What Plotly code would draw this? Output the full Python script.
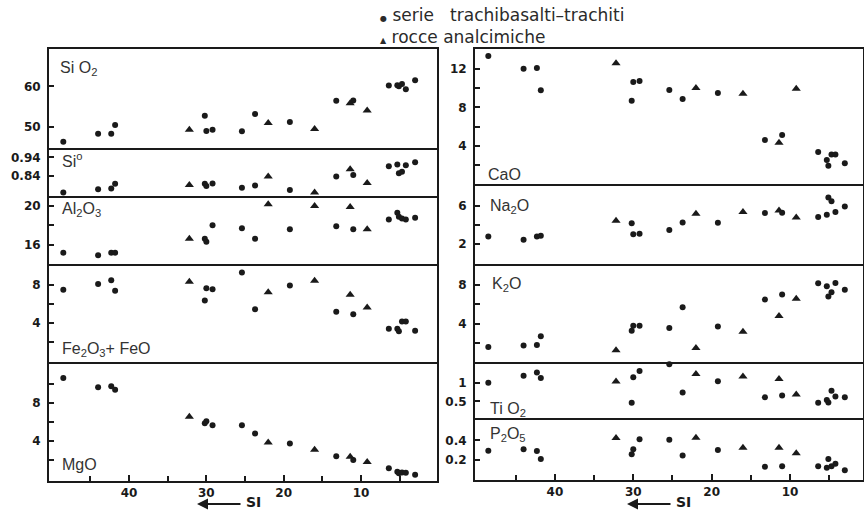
import plotly.graph_objects as go

# ---------------- data ----------------
SI_DOTS = [48.5, 44.0, 42.3, 41.8, 30.2, 30.0, 29.2, 25.4, 23.7, 19.2,
           13.2, 11.0, 6.4, 5.3, 5.1, 4.7, 4.2, 3.0]
SI_TRI = [32.2, 22.0, 16.0, 11.4, 9.2]

SIO2_DOTS = [46.2, 48.2, 48.2, 50.4, 52.7, 48.9, 49.2, 48.8, 53.1, 51.1,
             56.4, 56.5, 60.2, 60.3, 60.0, 60.6, 59.3, 61.5]
SIO2_TRI = [49.2, 50.9, 49.4, 55.8, 54.0]

SIO_DOTS = [0.750, 0.767, 0.771, 0.797, 0.797, 0.785, 0.799, 0.776, 0.788, 0.764,
            0.837, 0.845, 0.892, 0.902, 0.854, 0.862, 0.897, 0.914]
SIO_TRI = [0.790, 0.837, 0.750, 0.876, 0.802]

AL2O3_DOTS = [15.16, 14.9, 15.16, 15.16, 16.6, 16.3, 18.0, 17.7, 16.6, 17.6,
              17.9, 17.6, 18.6, 19.3, 18.9, 18.7, 18.6, 18.8]
AL2O3_TRI = [16.6, 20.2, 20.0, 19.9, 17.6]

FEO_DOTS = [7.5, 8.1, 8.5, 7.4, 6.36, 7.65, 7.55, 9.3, 5.44, 7.93,
            5.2, 4.92, 3.42, 3.4, 3.14, 4.17, 4.17, 3.2]
FEO_TRI = [8.34, 7.24, 8.44, 6.97, 5.64]

MGO_DOTS = [10.65, 9.67, 9.77, 9.4, 5.85, 6.06, 5.64, 5.64, 4.76, 3.69,
            2.36, 1.95, 1.08, 0.7, 0.53, 0.63, 0.6, 0.38]
MGO_TRI = [6.54, 3.82, 3.03, 2.3, 1.74]

CAO_DOTS = [13.34, 12.0, 12.1, 9.77, 8.7, 10.63, 10.73, 9.8, 8.88, 9.5,
            4.62, 5.13, 3.38, 2.56, 1.94, 3.11, 3.11, 2.22]
CAO_TRI = [12.59, 10.01, 9.43, 4.35, 9.94]

NA2O_DOTS = [2.81, 2.47, 2.81, 2.88, 4.17, 3.05, 3.08, 3.49, 4.27, 4.24,
             5.25, 5.28, 4.84, 5.08, 6.87, 6.47, 5.35, 5.93]
NA2O_TRI = [4.44, 5.18, 5.35, 5.52, 4.78]

K2O_DOTS = [1.62, 1.78, 1.82, 2.72, 3.29, 3.8, 3.8, 3.56, 5.71, 3.73,
            6.49, 7.02, 8.17, 7.86, 6.82, 7.26, 8.2, 7.5]
K2O_TRI = [1.28, 1.51, 3.19, 4.8, 6.59]

TIO2_DOTS = [1.01, 1.2, 1.29, 1.14, 0.46, 1.16, 1.33, 1.51, 0.74, 1.05,
             0.61, 0.66, 0.46, 0.54, 0.47, 0.79, 0.63, 0.61]
TIO2_TRI = [1.04, 1.25, 1.18, 1.11, 0.69]

P2O5_DOTS = [0.293, 0.307, 0.29, 0.207, 0.257, 0.307, 0.41, 0.407, 0.243, 0.3,
             0.127, 0.133, 0.133, 0.117, 0.207, 0.133, 0.157, 0.09]
P2O5_TRI = [0.423, 0.427, 0.323, 0.323, 0.267]

X_MAJOR = [40, 30, 20, 10]
X_MINOR = [45, 35, 25, 15, 5]

LEGEND_DOTS = "serie\u00a0\u00a0 trachibasalti\u2013trachiti"
LEGEND_TRI = "rocce analcimiche"
AXIS_NAME = "SI"

# ---------------- layout helpers ----------------
W, H = 864, 513
def px_x(p):
    return p / W
def px_y(p):
    return 1 - p / H

COLS = {
    "L": dict(dom=[px_x(49), px_x(437)], rng=[50.35, 0.17]),
    "R": dict(dom=[px_x(475), px_x(863)], rng=[50.2, 0.68]),
}

# (label, column, top px, bottom px, y range, labelled ticks, minor ticks,
#  dots, triangles, label x px, label y px, is top panel, is bottom panel)
PANELS = [
    ("Si O<sub>2</sub>", "L", 49, 148, [44.66, 69.3], [50, 60], [],
     SIO2_DOTS, SIO2_TRI, 58, 68, True, False),
    ("Si<sup>o</sup>", "L", 150, 196, [0.731, 0.980], [0.84, 0.94], [],
     SIO_DOTS, SIO_TRI, 60, 160, False, False),
    ("Al<sub>2</sub>O<sub>3</sub>", "L", 198, 264, [13.98, 20.84], [16, 20], [18],
     AL2O3_DOTS, AL2O3_TRI, 60, 209, False, False),
    ("Fe<sub>2</sub>O<sub>3</sub>+ FeO", "L", 266, 362, [-0.07, 9.98], [4, 8], [2, 6],
     FEO_DOTS, FEO_TRI, 60, 349, False, False),
    ("MgO", "L", 364, 481, [-0.28, 12.14], [4, 8], [2, 6, 10],
     MGO_DOTS, MGO_TRI, 60, 464, False, True),
    ("CaO", "R", 49, 184, [0.06, 14.06], [4, 8, 12], [2, 6, 10],
     CAO_DOTS, CAO_TRI, 486, 174, True, False),
    ("Na<sub>2</sub>O", "R", 186, 264, [-0.06, 8.06], [2, 6], [4],
     NA2O_DOTS, NA2O_TRI, 488, 206, False, False),
    ("K<sub>2</sub>O", "R", 266, 362, [0.07, 9.95], [4, 8], [2, 6],
     K2O_DOTS, K2O_TRI, 490, 284, False, False),
    ("Ti O<sub>2</sub>", "R", 364, 418, [0.045, 1.52], [0.5, 1], [],
     TIO2_DOTS, TIO2_TRI, 488, 409, False, False),
    ("P<sub>2</sub>O<sub>5</sub>", "R", 420, 480, [-0.01, 0.61], [0.2, 0.4], [],
     P2O5_DOTS, P2O5_TRI, 488, 434, False, True),
]

INK = "#1a1a1a"
TICKFONT = dict(family="DejaVu Sans", size=12, color=INK, weight="bold")
LABELFONT = dict(family="Liberation Sans", size=16, color="#333333")

fig = go.Figure()
layout = dict(
    width=W, height=H, margin=dict(l=0, r=0, t=0, b=0),
    paper_bgcolor="white", plot_bgcolor="white", showlegend=False,
)
annotations = []

for i, (lab, col, top, bot, yr, ymaj, ymin, dots, tri, lx, ly, is_top, is_bottom) in enumerate(PANELS):
    n = i + 1
    xa = "x" if n == 1 else f"x{n}"
    ya = "y" if n == 1 else f"y{n}"
    xkey = "xaxis" if n == 1 else f"xaxis{n}"
    ykey = "yaxis" if n == 1 else f"yaxis{n}"
    c = COLS[col]
    fig.add_trace(go.Scatter(
        x=SI_DOTS, y=dots, mode="markers", xaxis=xa, yaxis=ya, cliponaxis=False,
        marker=dict(symbol="circle", size=6, color=INK),
        name=LEGEND_DOTS, hoverinfo="x+y"))
    fig.add_trace(go.Scatter(
        x=SI_TRI, y=tri, mode="markers", xaxis=xa, yaxis=ya, cliponaxis=False,
        marker=dict(symbol="triangle-up", size=8, color=INK),
        name=LEGEND_TRI, hoverinfo="x+y"))
    xaxis = dict(
        domain=c["dom"], range=c["rng"], anchor=ya,
        showline=True, mirror=is_top, linecolor=INK, linewidth=2,
        showgrid=False, zeroline=False, tickfont=TICKFONT,
    )
    if is_bottom:
        xaxis.update(
            tickmode="array", tickvals=X_MAJOR, ticks="inside", ticklen=6,
            tickwidth=2, tickcolor=INK, showticklabels=True,
            minor=dict(tickmode="array", tickvals=X_MINOR, ticks="inside",
                       ticklen=5, tickwidth=2, tickcolor=INK, showgrid=False))
    else:
        xaxis.update(showticklabels=False, ticks="")
    layout[xkey] = xaxis
    yaxis = dict(
        domain=[px_y(bot), px_y(top)], range=yr, anchor=xa,
        showline=True, mirror=True, linecolor=INK, linewidth=2,
        showgrid=False, zeroline=False,
        tickmode="array", tickvals=ymaj,
        ticks="inside", ticklen=5, tickwidth=2, tickcolor=INK,
        tickfont=TICKFONT, ticklabelstandoff=4,
    )
    if ymin:
        yaxis["minor"] = dict(tickmode="array", tickvals=ymin, ticks="inside",
                              ticklen=5, tickwidth=2, tickcolor=INK, showgrid=False)
    layout[ykey] = yaxis
    annotations.append(dict(
        text=lab, x=px_x(lx), y=px_y(ly), xref="paper", yref="paper",
        xanchor="left", yanchor="middle", showarrow=False, font=LABELFONT))

# "<-- SI" under the two bottom axes
for head_x in (197, 627):
    annotations.append(dict(
        text="", x=px_x(head_x), y=px_y(504), xref="paper", yref="paper",
        ax=45, ay=0, showarrow=True, arrowhead=2, arrowsize=1, arrowwidth=2.2,
        arrowcolor=INK, standoff=0))
    annotations.append(dict(
        text="<b>" + AXIS_NAME + "</b>", x=px_x(head_x + 47), y=px_y(512),
        xref="paper", yref="paper", xanchor="left", yanchor="bottom",
        showarrow=False, font=dict(family="DejaVu Sans", size=14, color=INK)))

# legend text block (top centre)
SYM = "<span style='font-size:8px'>{}</span> "
annotations.append(dict(
    text=SYM.format("\u25cf") + LEGEND_DOTS + "<br>" + SYM.format("\u25b2") + LEGEND_TRI,
    x=px_x(378), y=px_y(3), xref="paper", yref="paper",
    xanchor="left", yanchor="top", align="left", showarrow=False,
    font=dict(family="DejaVu Sans", size=17, color="#2a2a2a")))

layout["annotations"] = annotations
fig.update_layout(**layout)
fig.write_html("out.html", config={"displayModeBar": False},
               post_script="document.body.style.margin='0';document.body.style.overflow='hidden';")
